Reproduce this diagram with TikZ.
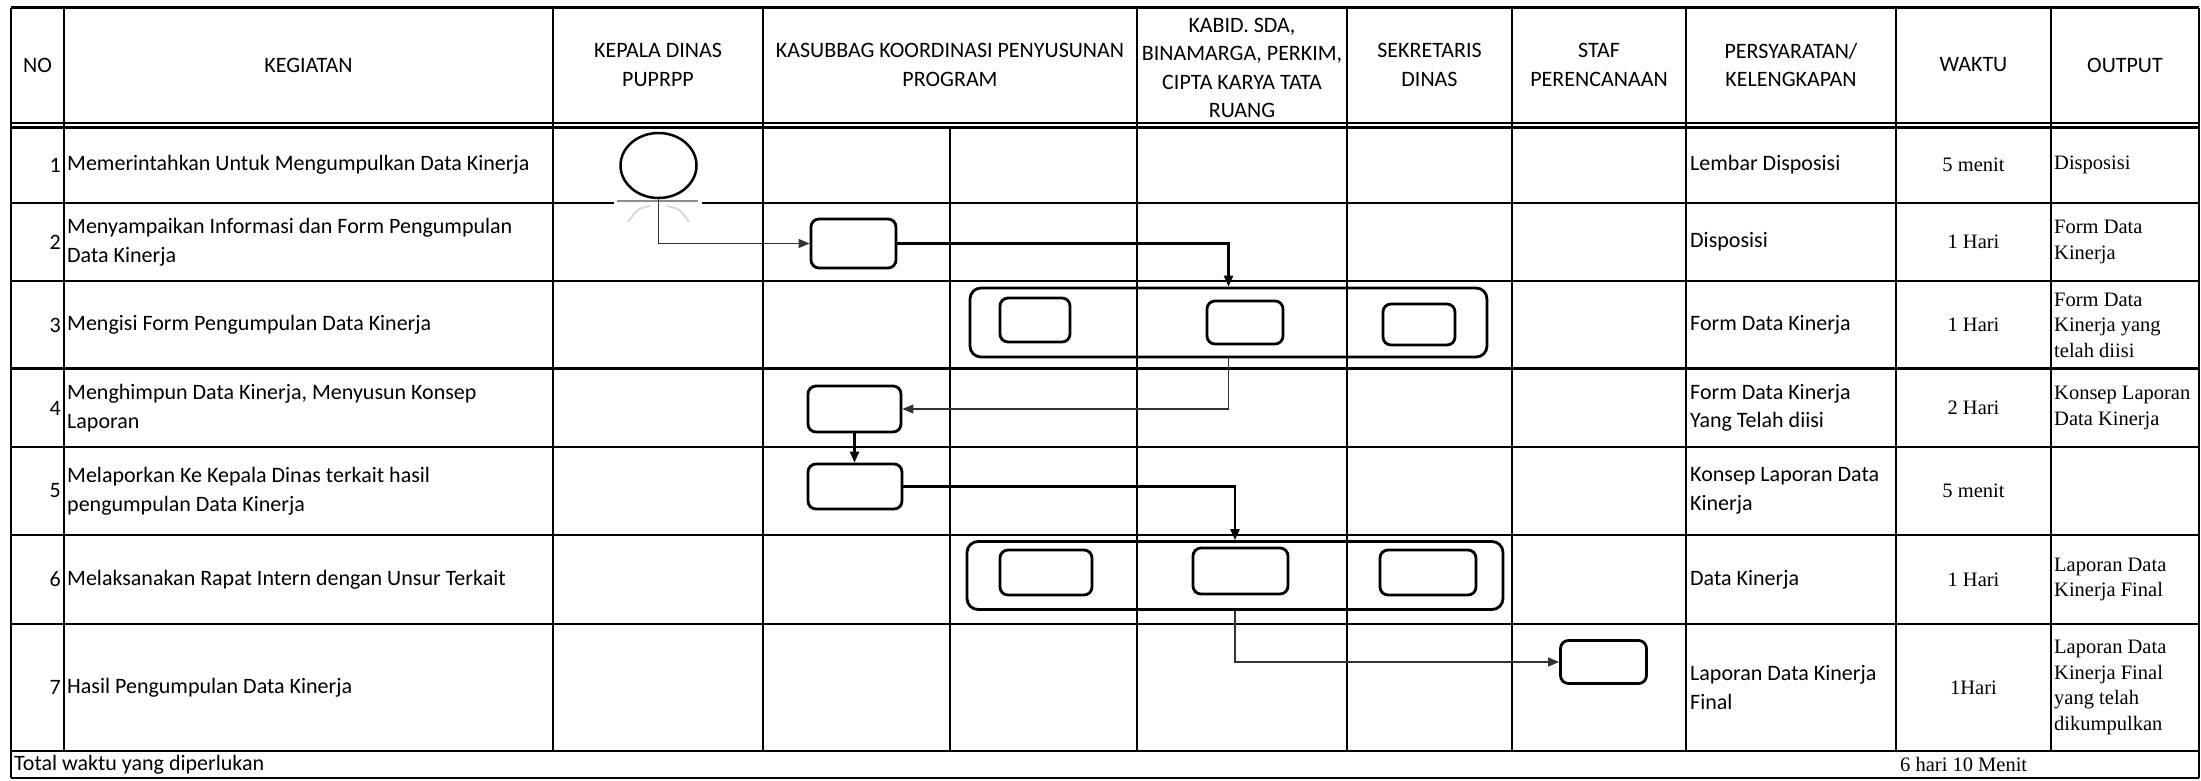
\documentclass[tikz,border=0pt]{standalone}
\usepackage{fontspec}
\setmainfont{Carlito}
\newfontfamily\timesfont{Liberation Serif}
\usetikzlibrary{arrows.meta,shapes.geometric}
\def\calfont{\fontsize{22}{28.5}\selectfont}
\def\tnrfont{\timesfont\fontsize{20.5}{25.5}\selectfont}
\tikzset{
	hline/.style={line width=2.4pt},
	vline/.style={line width=2pt},
	head/.style={font=\calfont, align=center, inner sep=0pt},
	txt/.style={font=\calfont, align=left, inner sep=0pt, anchor=west},
	num/.style={font=\calfont, inner sep=0pt, anchor=east},
	tnr/.style={font=\tnrfont, align=left, inner sep=0pt, anchor=west},
	tnrc/.style={font=\tnrfont, align=center, inner sep=0pt},
	box/.style={draw, line width=2.8pt, rounded corners=8pt, inner sep=0pt},
	grp/.style={draw, line width=2.8pt, rounded corners=11pt, inner sep=0pt},
	flow/.style={line width=1.3pt, -{Triangle[length=11pt,width=9pt]}},
	flowb/.style={line width=2.4pt, -{Triangle[length=11pt,width=9pt]}}
}

\begin{document}
\begin{tikzpicture}[x=1pt,y=-1pt]
	%%%%% START %%%%%
	\useasboundingbox (0,0) rectangle (2201,780);
	
	% rows
	\draw[hline] (11,7.5) -- (2199,7.5);
	\draw[hline] (11,123) -- (2199,123);
	\draw[hline] (11,127.5) -- (2199,127.5);
	\draw[hline] (11,203) -- (2199,203);
	\draw[hline] (11,281) -- (2199,281);
	\draw[hline] (11,368.5) -- (2199,368.5);
	\draw[hline] (11,447) -- (2199,447);
	\draw[hline] (11,535) -- (2199,535);
	\draw[hline] (11,624) -- (2199,624);
	\draw[hline] (11,751) -- (2199,751);
	\draw[hline] (11,778) -- (2199,778);
	
	% columns
	\draw[vline] (11,7.5) -- (11,778);
	\draw[vline] (64,7.5) -- (64,751);
	\draw[vline] (553,7.5) -- (553,751);
	\draw[vline] (763,7.5) -- (763,751);
	\draw[vline] (950,127.5) -- (950,751);
	\draw[vline] (1137,7.5) -- (1137,751);
	\draw[vline] (1347,7.5) -- (1347,751);
	\draw[vline] (1512,7.5) -- (1512,751);
	\draw[vline] (1686,7.5) -- (1686,751);
	\draw[vline] (1896,7.5) -- (1896,751);
	\draw[vline] (2051,7.5) -- (2051,751);
	\draw[vline] (2199,7.5) -- (2199,778);
	
	% header
	\node[head] (hno) at (37.5,65) {NO};
	\node[head] (hkeg) at (308.5,65) {KEGIATAN};
	\node[head] (hkep) at (658,65) {KEPALA DINAS\\PUPRPP};
	\node[head] (hkas) at (950,65) {KASUBBAG KOORDINASI PENYUSUNAN\\PROGRAM};
	\node[head] (hkab) at (1242,68) {KABID. SDA,\\BINAMARGA, PERKIM,\\CIPTA KARYA TATA\\RUANG};
	\node[head] (hsek) at (1429.5,65) {SEKRETARIS\\DINAS};
	\node[head] (hstaf) at (1599,65) {STAF\\PERENCANAAN};
	\node[head] (hsyarat) at (1791,65) {PERSYARATAN/\\KELENGKAPAN};
	\node[head] (hwaktu) at (1973.5,65) {WAKTU};
	\node[head] (hout) at (2125,65) {OUTPUT};
	
	% no + kegiatan
	\node[num] (n1) at (61,165) {1};
	\node[txt] (keg1) at (67,165) {Memerintahkan Untuk Mengumpulkan Data Kinerja};
	\node[num] (n2) at (61,242) {2};
	\node[txt] (keg2) at (67,242) {Menyampaikan Informasi dan Form Pengumpulan\\Data Kinerja};
	\node[num] (n3) at (61,325) {3};
	\node[txt] (keg3) at (67,325) {Mengisi Form Pengumpulan Data Kinerja};
	\node[num] (n4) at (61,408) {4};
	\node[txt] (keg4) at (67,408) {Menghimpun Data Kinerja, Menyusun Konsep\\Laporan};
	\node[num] (n5) at (61,491) {5};
	\node[txt] (keg5) at (67,491) {Melaporkan Ke Kepala Dinas terkait hasil\\pengumpulan Data Kinerja};
	\node[num] (n6) at (61,579.5) {6};
	\node[txt] (keg6) at (67,579.5) {Melaksanakan Rapat Intern dengan Unsur Terkait};
	\node[num] (n7) at (61,687.5) {7};
	\node[txt] (keg7) at (67,687.5) {Hasil Pengumpulan Data Kinerja};
	
	% persyaratan
	\node[txt] (syarat1) at (1690,165) {Lembar Disposisi};
	\node[txt] (syarat2) at (1690,242) {Disposisi};
	\node[txt] (syarat3) at (1690,325) {Form Data Kinerja};
	\node[txt] (syarat4) at (1690,408) {Form Data Kinerja\\Yang Telah diisi};
	\node[txt] (syarat5) at (1690,491) {Konsep Laporan Data\\Kinerja};
	\node[txt] (syarat6) at (1690,579.5) {Data Kinerja};
	\node[txt] (syarat7) at (1690,687.5) {Laporan Data Kinerja\\Final};
	
	% waktu
	\node[tnrc] (waktu1) at (1973.5,165) {5 menit};
	\node[tnrc] (waktu2) at (1973.5,242) {1 Hari};
	\node[tnrc] (waktu3) at (1973.5,325) {1 Hari};
	\node[tnrc] (waktu4) at (1973.5,408) {2 Hari};
	\node[tnrc] (waktu5) at (1973.5,491) {5 menit};
	\node[tnrc] (waktu6) at (1973.5,579.5) {1 Hari};
	\node[tnrc] (waktu7) at (1973.5,687.5) {1Hari};
	
	% output
	\node[tnr] (out1) at (2054,165) {Disposisi};
	\node[tnr] (out2) at (2054,242) {Form Data\\Kinerja};
	\node[tnr] (out3) at (2054,325) {Form Data\\Kinerja yang\\telah diisi};
	\node[tnr] (out4) at (2054,408) {Konsep Laporan\\Data Kinerja};
	\node[tnr] (out6) at (2054,579.5) {Laporan Data\\Kinerja Final};
	\node[tnr] (out7) at (2054,687.5) {Laporan Data\\Kinerja Final\\yang telah\\dikumpulkan};
	
	% total
	\node[txt] (total) at (14,764.5) {Total waktu yang diperlukan};
	\node[tnr] (totalwaktu) at (1900,764.5) {6 hari 10 Menit};
	
	% start symbol
	\fill[white] (614,199) rectangle (702,207);
	\draw[black!45, line width=2.5pt] (616.5,201) -- (698,201);
	\draw[black!15, line width=2pt] (650,206) .. controls (637,209) .. (628,222);
	\draw[black!15, line width=2pt] (667,206) .. controls (680,209) .. (689,222);
	\node[ellipse, draw, line width=2.5pt, minimum width=76pt, minimum height=65pt, inner sep=0pt] (start) at (658.5,165.5) {};
	
	% flow boxes
	\node[box, minimum width=85pt, minimum height=49pt] (b2) at (853.5,243.5) {};
	
	\node[grp, minimum width=517pt, minimum height=69pt] (g3) at (1228.5,322.5) {};
	\node[box, minimum width=70pt, minimum height=44pt] (g3a) at (1035,320) {};
	\node[box, minimum width=76pt, minimum height=43pt] (g3b) at (1245,322.5) {};
	\node[box, minimum width=72pt, minimum height=41pt] (g3c) at (1419,324.5) {};
	
	\node[box, minimum width=93pt, minimum height=46pt] (b4) at (854.5,409) {};
	\node[box, minimum width=94pt, minimum height=45pt] (b5) at (855,486.5) {};
	
	\node[grp, minimum width=536pt, minimum height=68pt] (g6) at (1235,575.5) {};
	\node[box, minimum width=92pt, minimum height=45pt] (g6a) at (1046,572.5) {};
	\node[box, minimum width=95pt, minimum height=46pt] (g6b) at (1240.5,571) {};
	\node[box, minimum width=96pt, minimum height=45pt] (g6c) at (1428,572.5) {};
	
	\node[box, minimum width=86pt, minimum height=43pt] (b7) at (1603.5,662) {};
	
	% connectors
	\draw[flow, black!80] (start.south) |- (b2.west);
	\draw[flowb] (b2.east) -| (g3.north);
	\draw[flow, black!80] (g3.south) |- (b4.east);
	\draw[flowb] (b4.south) -- (b4.south |- b5.north);
	\draw[flowb] (b5.east) -| (g6.north);
	\draw[flow, black!80] (g6.south) |- (b7.west);
	
	%%%%% END %%%%%
\end{tikzpicture}
\end{document}
